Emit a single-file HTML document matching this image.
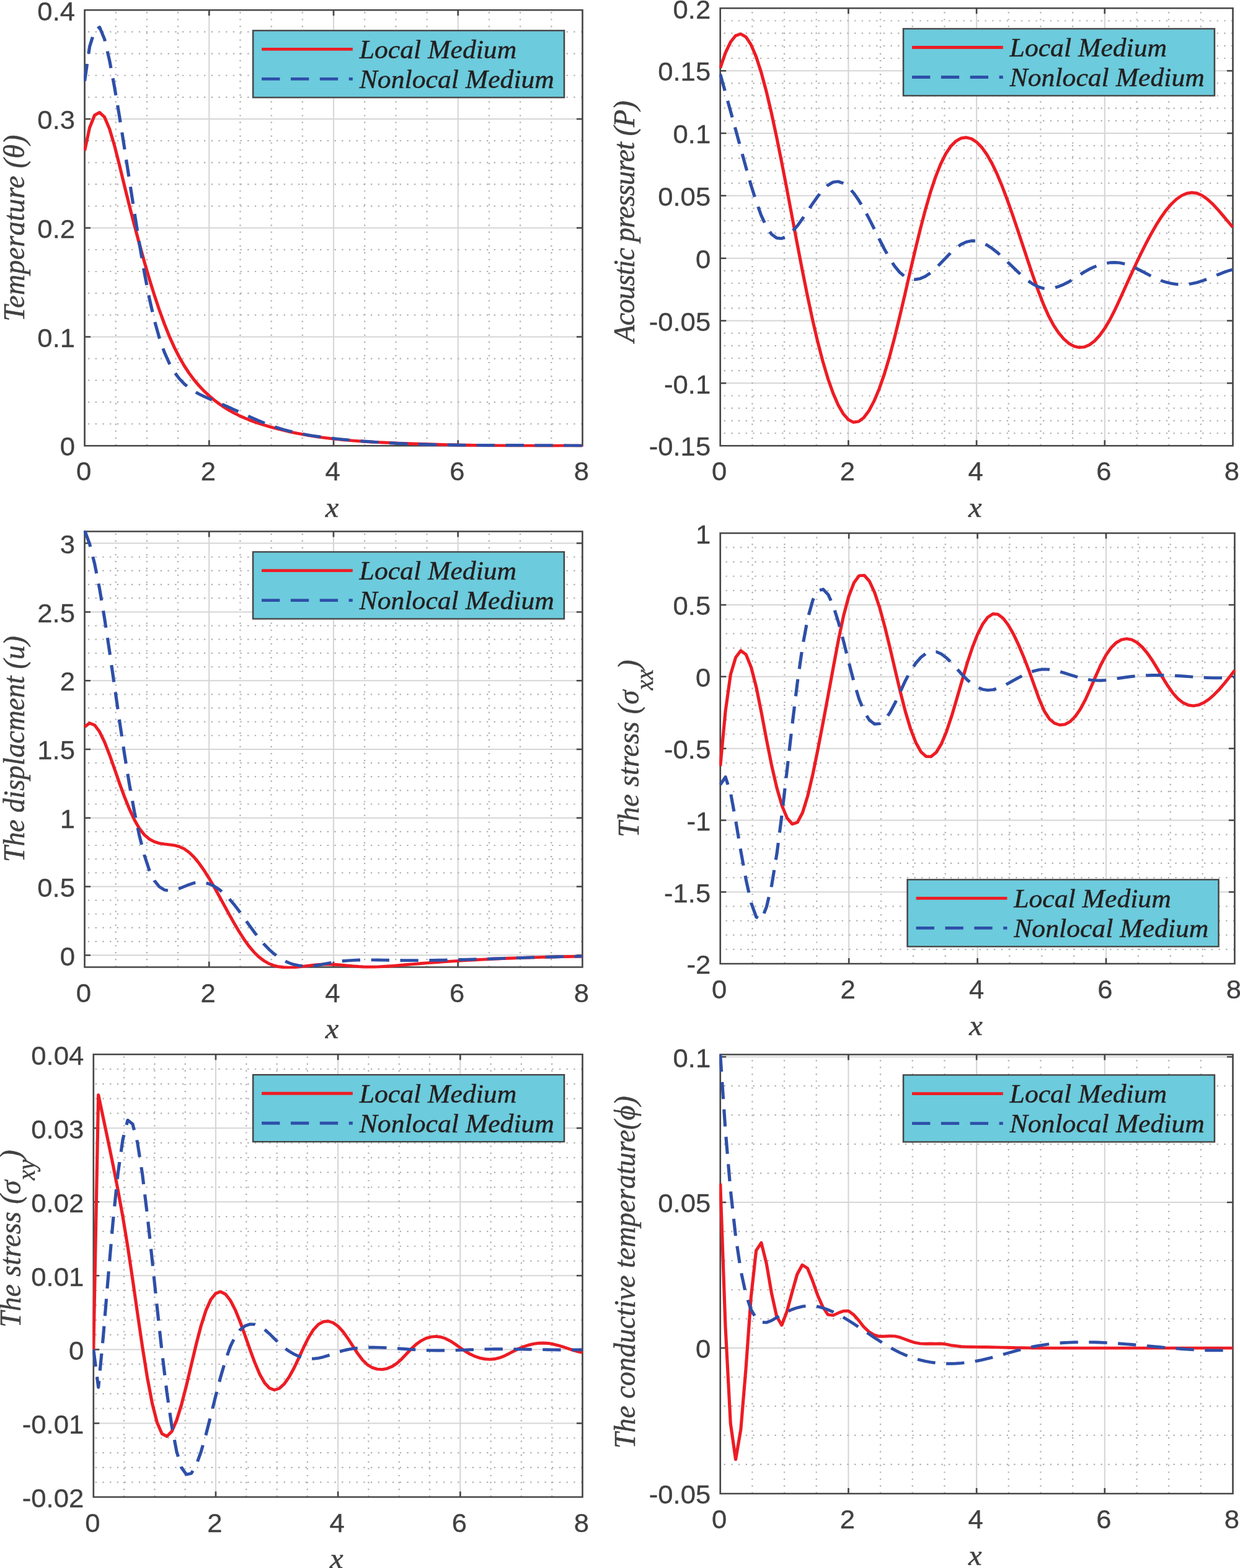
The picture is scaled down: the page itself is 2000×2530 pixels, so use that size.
<!DOCTYPE html>
<html lang="en">
<head>
<meta charset="utf-8">
<title>Local and nonlocal medium plots</title>
<style>
html,body{margin:0;padding:0;background:#fff;}
body{width:2000px;height:2530px;overflow:hidden;}
svg{display:block;}
.tk{font-family:"Liberation Sans",Arial,Helvetica,sans-serif;font-size:43px;fill:#414042;stroke:#414042;stroke-width:0.3px;}
.lb{font-family:"Liberation Serif","Times New Roman",Times,serif;font-style:italic;font-size:46px;fill:#414042;stroke:#414042;stroke-width:0.45px;}
.lg{font-family:"Liberation Serif","Times New Roman",Times,serif;font-style:italic;font-size:41.3px;fill:#231f20;stroke:#231f20;stroke-width:0.45px;}
</style>
</head>
<body>
<svg width="2000" height="2530" viewBox="0 0 2000 2530">
<rect x="0" y="0" width="2000" height="2530" fill="#ffffff"/>
<defs>
<clipPath id="c0"><rect x="127.65" y="15.1" width="761.77" height="706.45"/></clipPath>
<clipPath id="c1"><rect x="1096.6" y="12.15" width="784.31" height="709.4"/></clipPath>
<clipPath id="c2"><rect x="127.6" y="856.3" width="761.72" height="706.6"/></clipPath>
<clipPath id="c3"><rect x="1096.64" y="859.1" width="787" height="698.3"/></clipPath>
<clipPath id="c4"><rect x="141.12" y="1700" width="748.3" height="717.9"/></clipPath>
<clipPath id="c5"><rect x="1096.64" y="1700.3" width="784.26" height="712.1"/></clipPath>
</defs>
<g transform="scale(1.058,1)">
<g id="p1">
<path d="M318.8 16.3 V719.15 M508.53 16.3 V719.15 M698.26 16.3 V719.15 M129.06 543.44 H888 M129.06 367.73 H888 M129.06 192.02 H888" stroke="#d6d6d6" stroke-width="2" fill="none"/>
<path d="M176.5 718.95 V16.3 M223.93 718.95 V16.3 M271.36 718.95 V16.3 M366.23 718.95 V16.3 M413.66 718.95 V16.3 M461.1 718.95 V16.3 M555.96 718.95 V16.3 M603.4 718.95 V16.3 M650.83 718.95 V16.3 M745.7 718.95 V16.3 M793.13 718.95 V16.3 M840.56 718.95 V16.3" stroke="#b0b0b0" stroke-width="2.2" stroke-dasharray="2.2 8.87" fill="none"/>
<path d="M887.81 684.01 H130.48 M887.81 648.87 H130.48 M887.81 613.72 H130.48 M887.81 578.58 H130.48 M887.81 508.3 H130.48 M887.81 473.16 H130.48 M887.81 438.01 H130.48 M887.81 402.87 H130.48 M887.81 332.59 H130.48 M887.81 297.45 H130.48 M887.81 262.3 H130.48 M887.81 227.16 H130.48 M887.81 156.88 H130.48 M887.81 121.74 H130.48 M887.81 86.59 H130.48 M887.81 51.45 H130.48" stroke="#b0b0b0" stroke-width="2.2" stroke-dasharray="2.2 8.85" fill="none"/>
<path d="M129.06 16.3 H888 V719.15 H129.06 Z M318.8 719.15 v-9 M318.8 16.3 v9 M508.53 719.15 v-9 M508.53 16.3 v9 M698.26 719.15 v-9 M698.26 16.3 v9 M129.06 543.44 h9 M888 543.44 h-9 M129.06 367.73 h9 M888 367.73 h-9 M129.06 192.02 h9 M888 192.02 h-9" stroke="#464646" stroke-width="2.5" fill="none" stroke-linejoin="miter"/>
<g clip-path="url(#c0)" fill="none" stroke-linejoin="round">
<path d="M129.06 243.02 L136.65 205.88 L144.24 185.84 L151.83 181.4 L159.42 189.04 L167.01 208.13 L174.6 235.18 L182.19 266.88 L189.78 299.95 L197.37 332.32 L204.96 363.7 L212.55 393.93 L220.14 422.85 L227.73 450.31 L235.31 476.16 L242.9 500.23 L250.49 522.38 L258.08 542.45 L265.67 560.32 L273.26 576.14 L280.85 590.09 L288.44 602.36 L296.03 613.15 L303.62 622.65 L311.21 631.06 L318.8 638.57 L326.39 645.34 L333.98 651.47 L341.57 656.99 L349.15 661.95 L356.74 666.42 L364.33 670.44 L371.92 674.07 L379.51 677.35 L387.1 680.35 L394.69 683.1 L402.28 685.67 L409.87 688.08 L417.46 690.34 L425.05 692.47 L432.64 694.46 L440.23 696.32 L447.82 698.06 L455.41 699.67 L462.99 701.17 L470.58 702.57 L478.17 703.85 L485.76 705.05 L493.35 706.14 L500.94 707.15 L508.53 708.08 L516.12 708.93 L523.71 709.71 L531.3 710.43 L538.89 711.08 L546.48 711.67 L554.07 712.22 L561.66 712.72 L569.24 713.18 L576.83 713.61 L584.42 714.01 L592.01 714.38 L599.6 714.74 L607.19 715.08 L614.78 715.4 L622.37 715.71 L629.96 716 L637.55 716.27 L645.14 716.53 L652.73 716.77 L660.32 717 L667.91 717.22 L675.5 717.42 L683.08 717.61 L690.67 717.78 L698.26 717.95 L705.85 718.1 L713.44 718.24 L721.03 718.37 L728.62 718.48 L736.21 718.59 L743.8 718.69 L751.39 718.77 L758.98 718.85 L766.57 718.92 L774.16 718.98 L781.75 719.03 L789.34 719.07 L796.92 719.11 L804.51 719.14 L812.1 719.16 L819.69 719.18 L827.28 719.19 L834.87 719.19 L842.46 719.19 L850.05 719.18 L857.64 719.17 L865.23 719.16 L872.82 719.14 L880.41 719.12 L888 719.1" stroke="#ed1c24" stroke-width="4.9"/>
<path d="M129.06 130.61 L136.65 75.21 L144.24 49.44 L151.83 43.9 L159.42 63.4 L167.01 97.79 L174.6 140.75 L182.19 188.42 L189.78 239.15 L197.37 291.31 L204.96 343.26 L212.55 393.37 L220.14 440.01 L227.73 481.56 L235.31 516.57 L242.9 545.12 L250.49 568.03 L258.08 586.09 L265.67 600.12 L273.26 610.93 L280.85 619.33 L288.44 626.04 L296.03 631.46 L303.62 635.91 L311.21 639.73 L318.8 643.23 L326.39 646.7 L333.98 650.19 L341.57 653.72 L349.15 657.27 L356.74 660.87 L364.33 664.52 L371.92 668.2 L379.51 671.86 L387.1 675.45 L394.69 678.94 L402.28 682.27 L409.87 685.39 L417.46 688.27 L425.05 690.88 L432.64 693.25 L440.23 695.4 L447.82 697.33 L455.41 699.08 L462.99 700.65 L470.58 702.06 L478.17 703.34 L485.76 704.5 L493.35 705.56 L500.94 706.54 L508.53 707.45 L516.12 708.32 L523.71 709.13 L531.3 709.9 L538.89 710.63 L546.48 711.32 L554.07 711.96 L561.66 712.56 L569.24 713.13 L576.83 713.66 L584.42 714.15 L592.01 714.61 L599.6 715.04 L607.19 715.43 L614.78 715.79 L622.37 716.12 L629.96 716.43 L637.55 716.71 L645.14 716.96 L652.73 717.19 L660.32 717.39 L667.91 717.57 L675.5 717.73 L683.08 717.88 L690.67 718 L698.26 718.11 L705.85 718.2 L713.44 718.28 L721.03 718.34 L728.62 718.4 L736.21 718.44 L743.8 718.48 L751.39 718.5 L758.98 718.52 L766.57 718.54 L774.16 718.55 L781.75 718.56 L789.34 718.56 L796.92 718.57 L804.51 718.58 L812.1 718.59 L819.69 718.6 L827.28 718.62 L834.87 718.64 L842.46 718.68 L850.05 718.72 L857.64 718.77 L865.23 718.83 L872.82 718.91 L880.41 719 L888 719.1" stroke="#2e4fa8" stroke-width="4.9" stroke-dasharray="27.7 16.6"/>
</g>
<text class="tk" transform="translate(127.65,775.15) scale(0.96,1)" text-anchor="middle">0</text>
<text class="tk" transform="translate(317.38,775.15) scale(0.96,1)" text-anchor="middle">2</text>
<text class="tk" transform="translate(507.11,775.15) scale(0.96,1)" text-anchor="middle">4</text>
<text class="tk" transform="translate(696.85,775.15) scale(0.96,1)" text-anchor="middle">6</text>
<text class="tk" transform="translate(886.58,775.15) scale(0.96,1)" text-anchor="middle">8</text>
<text class="tk" transform="translate(114.41,735.45) scale(0.96,1)" text-anchor="end">0</text>
<text class="tk" transform="translate(114.41,559.74) scale(0.96,1)" text-anchor="end">0.1</text>
<text class="tk" transform="translate(114.41,384.03) scale(0.96,1)" text-anchor="end">0.2</text>
<text class="tk" transform="translate(114.41,208.32) scale(0.96,1)" text-anchor="end">0.3</text>
<text class="tk" transform="translate(114.41,32.61) scale(0.96,1)" text-anchor="end">0.4</text>
<text class="lb" x="506.26" y="834.15" text-anchor="middle">x</text>
<text class="lb" style="font-size:46px;letter-spacing:0.33px" transform="translate(36.86,367.9) rotate(-90)" text-anchor="middle">Temperature (θ)</text>
<rect x="385.73" y="49.3" width="474.39" height="108" fill="#6ccbdc" stroke="#464646" stroke-width="2.4"/>
<path d="M398.96 79.4 H537.71" stroke="#ed1c24" stroke-width="4.9" fill="none"/>
<path d="M398.96 127.4 H537.71" stroke="#2e4fa8" stroke-width="4.9" stroke-dasharray="27.7 16.6" fill="none"/>
<text class="lg" x="547.92" y="93.9">Local Medium</text>
<text class="lg" x="547.92" y="142">Nonlocal Medium</text>
</g>
<g id="p2">
<path d="M1293.38 13.35 V719.15 M1488.75 13.35 V719.15 M1684.12 13.35 V719.15 M1098.02 618.32 H1879.49 M1098.02 517.49 H1879.49 M1098.02 416.66 H1879.49 M1098.02 315.83 H1879.49 M1098.02 215 H1879.49 M1098.02 114.17 H1879.49" stroke="#d6d6d6" stroke-width="2" fill="none"/>
<path d="M1146.86 718.95 V13.35 M1195.7 718.95 V13.35 M1244.54 718.95 V13.35 M1342.23 718.95 V13.35 M1391.07 718.95 V13.35 M1439.91 718.95 V13.35 M1537.59 718.95 V13.35 M1586.44 718.95 V13.35 M1635.28 718.95 V13.35 M1732.96 718.95 V13.35 M1781.81 718.95 V13.35 M1830.65 718.95 V13.35" stroke="#b0b0b0" stroke-width="2.2" stroke-dasharray="2.2 8.87" fill="none"/>
<path d="M1879.3 698.98 H1099.43 M1879.3 678.82 H1099.43 M1879.3 658.65 H1099.43 M1879.3 638.49 H1099.43 M1879.3 598.15 H1099.43 M1879.3 577.99 H1099.43 M1879.3 557.82 H1099.43 M1879.3 537.66 H1099.43 M1879.3 497.32 H1099.43 M1879.3 477.16 H1099.43 M1879.3 456.99 H1099.43 M1879.3 436.83 H1099.43 M1879.3 396.49 H1099.43 M1879.3 376.33 H1099.43 M1879.3 356.16 H1099.43 M1879.3 336 H1099.43 M1879.3 295.66 H1099.43 M1879.3 275.5 H1099.43 M1879.3 255.33 H1099.43 M1879.3 235.17 H1099.43 M1879.3 194.83 H1099.43 M1879.3 174.67 H1099.43 M1879.3 154.5 H1099.43 M1879.3 134.34 H1099.43 M1879.3 94 H1099.43 M1879.3 73.84 H1099.43 M1879.3 53.67 H1099.43 M1879.3 33.51 H1099.43" stroke="#b0b0b0" stroke-width="2.2" stroke-dasharray="2.2 8.85" fill="none"/>
<path d="M1098.02 13.35 H1879.49 V719.15 H1098.02 Z M1293.38 719.15 v-9 M1293.38 13.35 v9 M1488.75 719.15 v-9 M1488.75 13.35 v9 M1684.12 719.15 v-9 M1684.12 13.35 v9 M1098.02 618.32 h9 M1879.49 618.32 h-9 M1098.02 517.49 h9 M1879.49 517.49 h-9 M1098.02 416.66 h9 M1879.49 416.66 h-9 M1098.02 315.83 h9 M1879.49 315.83 h-9 M1098.02 215 h9 M1879.49 215 h-9 M1098.02 114.17 h9 M1879.49 114.17 h-9" stroke="#464646" stroke-width="2.5" fill="none" stroke-linejoin="miter"/>
<g clip-path="url(#c1)" fill="none" stroke-linejoin="round">
<path d="M1098.02 109.84 L1105.83 85.38 L1113.64 67.88 L1121.46 57.59 L1129.27 54.73 L1137.09 59.55 L1144.9 72.05 L1152.72 91.51 L1160.53 117.04 L1168.35 147.79 L1176.16 182.87 L1183.98 221.41 L1191.79 262.54 L1199.61 305.38 L1207.42 349.1 L1215.24 392.84 L1223.05 435.76 L1230.87 477 L1238.68 515.74 L1246.5 551.17 L1254.31 582.9 L1262.12 610.68 L1269.94 634.25 L1277.75 653.36 L1285.57 667.75 L1293.38 677.17 L1301.2 681.36 L1309.01 680.18 L1316.83 673.88 L1324.64 662.79 L1332.46 647.25 L1340.27 627.57 L1348.09 603.89 L1355.9 576.22 L1363.72 544.95 L1371.53 511.08 L1379.35 475.67 L1387.16 439.75 L1394.98 404.37 L1402.79 370.48 L1410.6 338.87 L1418.42 310.33 L1426.23 285.5 L1434.05 264.65 L1441.86 248.01 L1449.68 235.72 L1457.49 227.53 L1465.31 222.98 L1473.12 221.79 L1480.94 223.88 L1488.75 229.17 L1496.57 237.59 L1504.38 249.07 L1512.2 263.52 L1520.01 280.86 L1527.83 300.71 L1535.64 322.58 L1543.46 345.99 L1551.27 370.44 L1559.09 395.43 L1566.9 420.47 L1574.71 445.04 L1582.53 468.45 L1590.34 489.95 L1598.16 508.8 L1605.97 524.44 L1613.79 537.01 L1621.6 546.82 L1629.42 554.04 L1637.23 558.66 L1645.05 560.63 L1652.86 559.92 L1660.68 556.49 L1668.49 550.32 L1676.31 541.45 L1684.12 529.98 L1691.94 516.04 L1699.75 499.78 L1707.57 481.95 L1715.38 463.66 L1723.19 445.48 L1731.01 427.63 L1738.82 410.3 L1746.64 393.72 L1754.45 378.09 L1762.27 363.62 L1770.08 350.51 L1777.9 338.97 L1785.71 329.21 L1793.53 321.39 L1801.34 315.62 L1809.16 312.02 L1816.97 310.71 L1824.79 311.79 L1832.6 315.37 L1840.42 321.16 L1848.23 328.7 L1856.05 337.52 L1863.86 347.12 L1871.67 357.04 L1879.49 366.8" stroke="#ed1c24" stroke-width="4.9"/>
<path d="M1098.02 119.67 L1105.83 149.25 L1113.64 179.08 L1121.46 209.17 L1129.27 239.51 L1137.09 269.72 L1144.9 298.62 L1152.72 325 L1160.53 347.68 L1168.35 365.64 L1176.16 377.85 L1183.98 384 L1191.79 384.86 L1199.61 381.35 L1207.42 374.35 L1215.24 364.77 L1223.05 353.44 L1230.87 341.18 L1238.68 328.79 L1246.5 317.06 L1254.31 306.81 L1262.12 298.83 L1269.94 293.94 L1277.75 292.88 L1285.57 295.71 L1293.38 301.97 L1301.2 311.22 L1309.01 322.98 L1316.83 336.8 L1324.64 352.22 L1332.46 368.66 L1340.27 385.37 L1348.09 401.57 L1355.9 416.49 L1363.72 429.35 L1371.53 439.38 L1379.35 446.18 L1387.16 449.97 L1394.98 451.02 L1402.79 449.58 L1410.6 445.91 L1418.42 440.28 L1426.23 433.02 L1434.05 424.71 L1441.86 416.02 L1449.68 407.61 L1457.49 400.13 L1465.31 394.25 L1473.12 390.35 L1480.94 388.53 L1488.75 388.85 L1496.57 391.16 L1504.38 395.15 L1512.2 400.55 L1520.01 407.06 L1527.83 414.38 L1535.64 422.23 L1543.46 430.31 L1551.27 438.29 L1559.09 445.85 L1566.9 452.66 L1574.71 458.39 L1582.53 462.7 L1590.34 465.26 L1598.16 465.87 L1605.97 464.76 L1613.79 462.3 L1621.6 458.89 L1629.42 454.75 L1637.23 449.73 L1645.05 444.14 L1652.86 438.89 L1660.68 434.3 L1668.49 430.43 L1676.31 427.35 L1684.12 425.12 L1691.94 423.81 L1699.75 423.47 L1707.57 424.16 L1715.38 425.96 L1723.19 428.78 L1731.01 432.39 L1738.82 436.51 L1746.64 440.87 L1754.45 445.21 L1762.27 449.26 L1770.08 452.75 L1777.9 455.49 L1785.71 457.45 L1793.53 458.64 L1801.34 459.07 L1809.16 458.74 L1816.97 457.66 L1824.79 455.83 L1832.6 453.29 L1840.42 450.24 L1848.23 446.88 L1856.05 443.46 L1863.86 440.17 L1871.67 437.26 L1879.49 434.94" stroke="#2e4fa8" stroke-width="4.9" stroke-dasharray="27.7 16.6"/>
</g>
<text class="tk" transform="translate(1096.6,775.15) scale(0.96,1)" text-anchor="middle">0</text>
<text class="tk" transform="translate(1291.97,775.15) scale(0.96,1)" text-anchor="middle">2</text>
<text class="tk" transform="translate(1487.33,775.15) scale(0.96,1)" text-anchor="middle">4</text>
<text class="tk" transform="translate(1682.7,775.15) scale(0.96,1)" text-anchor="middle">6</text>
<text class="tk" transform="translate(1878.07,775.15) scale(0.96,1)" text-anchor="middle">8</text>
<text class="tk" transform="translate(1083.36,735.45) scale(0.96,1)" text-anchor="end">-0.15</text>
<text class="tk" transform="translate(1083.36,634.62) scale(0.96,1)" text-anchor="end">-0.1</text>
<text class="tk" transform="translate(1083.36,533.79) scale(0.96,1)" text-anchor="end">-0.05</text>
<text class="tk" transform="translate(1083.36,432.96) scale(0.96,1)" text-anchor="end">0</text>
<text class="tk" transform="translate(1083.36,332.13) scale(0.96,1)" text-anchor="end">0.05</text>
<text class="tk" transform="translate(1083.36,231.3) scale(0.96,1)" text-anchor="end">0.1</text>
<text class="tk" transform="translate(1083.36,130.47) scale(0.96,1)" text-anchor="end">0.15</text>
<text class="tk" transform="translate(1083.36,29.64) scale(0.96,1)" text-anchor="end">0.2</text>
<text class="lb" x="1486.48" y="834.15" text-anchor="middle">x</text>
<text class="lb" style="font-size:46px;letter-spacing:-0.85px" transform="translate(967.2,357.8) rotate(-90)" text-anchor="middle">Acoustic pressuret (P)</text>
<rect x="1377.13" y="46.4" width="474.39" height="108" fill="#6ccbdc" stroke="#464646" stroke-width="2.4"/>
<path d="M1390.36 76.5 H1529.11" stroke="#ed1c24" stroke-width="4.9" fill="none"/>
<path d="M1390.36 124.5 H1529.11" stroke="#2e4fa8" stroke-width="4.9" stroke-dasharray="27.7 16.6" fill="none"/>
<text class="lg" x="1539.32" y="91">Local Medium</text>
<text class="lg" x="1539.32" y="139.1">Nonlocal Medium</text>
</g>
<g id="p3">
<path d="M318.74 857.5 V1560.5 M508.46 857.5 V1560.5 M698.18 857.5 V1560.5 M129.02 1541.2 H887.9 M129.02 1430.43 H887.9 M129.02 1319.67 H887.9 M129.02 1208.9 H887.9 M129.02 1098.14 H887.9 M129.02 987.38 H887.9 M129.02 876.61 H887.9" stroke="#d6d6d6" stroke-width="2" fill="none"/>
<path d="M176.45 1560.3 V857.5 M223.88 1560.3 V857.5 M271.31 1560.3 V857.5 M366.17 1560.3 V857.5 M413.6 1560.3 V857.5 M461.03 1560.3 V857.5 M555.89 1560.3 V857.5 M603.32 1560.3 V857.5 M650.75 1560.3 V857.5 M745.61 1560.3 V857.5 M793.04 1560.3 V857.5 M840.47 1560.3 V857.5" stroke="#b0b0b0" stroke-width="2.2" stroke-dasharray="2.2 8.87" fill="none"/>
<path d="M887.71 1519.05 H130.43 M887.71 1496.89 H130.43 M887.71 1474.74 H130.43 M887.71 1452.59 H130.43 M887.71 1408.28 H130.43 M887.71 1386.13 H130.43 M887.71 1363.98 H130.43 M887.71 1341.82 H130.43 M887.71 1297.52 H130.43 M887.71 1275.36 H130.43 M887.71 1253.21 H130.43 M887.71 1231.06 H130.43 M887.71 1186.75 H130.43 M887.71 1164.6 H130.43 M887.71 1142.45 H130.43 M887.71 1120.29 H130.43 M887.71 1075.99 H130.43 M887.71 1053.83 H130.43 M887.71 1031.68 H130.43 M887.71 1009.53 H130.43 M887.71 965.22 H130.43 M887.71 943.07 H130.43 M887.71 920.92 H130.43 M887.71 898.76 H130.43" stroke="#b0b0b0" stroke-width="2.2" stroke-dasharray="2.2 8.85" fill="none"/>
<path d="M129.02 857.5 H887.9 V1560.5 H129.02 Z M318.74 1560.5 v-9 M318.74 857.5 v9 M508.46 1560.5 v-9 M508.46 857.5 v9 M698.18 1560.5 v-9 M698.18 857.5 v9 M129.02 1541.2 h9 M887.9 1541.2 h-9 M129.02 1430.43 h9 M887.9 1430.43 h-9 M129.02 1319.67 h9 M887.9 1319.67 h-9 M129.02 1208.9 h9 M887.9 1208.9 h-9 M129.02 1098.14 h9 M887.9 1098.14 h-9 M129.02 987.38 h9 M887.9 987.38 h-9 M129.02 876.61 h9 M887.9 876.61 h-9" stroke="#464646" stroke-width="2.5" fill="none" stroke-linejoin="miter"/>
<g clip-path="url(#c2)" fill="none" stroke-linejoin="round">
<path d="M129.02 1172.86 L136.61 1166.69 L144.19 1169.89 L151.78 1180.67 L159.37 1197.24 L166.96 1217.8 L174.55 1240.55 L182.14 1263.69 L189.73 1285.66 L197.32 1305.61 L204.91 1322.88 L212.49 1336.8 L220.08 1346.95 L227.67 1353.83 L235.26 1358.14 L242.85 1360.62 L250.44 1361.94 L258.03 1362.82 L265.62 1363.92 L273.21 1365.95 L280.79 1369.59 L288.38 1375.39 L295.97 1383.29 L303.56 1393.04 L311.15 1404.4 L318.74 1417.12 L326.33 1430.86 L333.92 1445.28 L341.5 1460.03 L349.09 1474.76 L356.68 1489.12 L364.27 1502.76 L371.86 1515.34 L379.45 1526.51 L387.04 1536.08 L394.63 1543.99 L402.22 1550.21 L409.8 1554.73 L417.39 1557.82 L424.98 1559.76 L432.57 1560.8 L440.16 1561.09 L447.75 1560.81 L455.34 1560.11 L462.93 1559.15 L470.52 1558.09 L478.1 1557.1 L485.69 1556.33 L493.28 1555.94 L500.87 1555.93 L508.46 1556.24 L516.05 1556.77 L523.64 1557.44 L531.23 1558.18 L538.81 1558.9 L546.4 1559.53 L553.99 1559.97 L561.58 1560.16 L569.17 1560.13 L576.76 1559.91 L584.35 1559.52 L591.94 1559.01 L599.53 1558.39 L607.11 1557.72 L614.7 1557.01 L622.29 1556.3 L629.88 1555.61 L637.47 1554.94 L645.06 1554.3 L652.65 1553.67 L660.24 1553.07 L667.83 1552.49 L675.41 1551.92 L683 1551.38 L690.59 1550.85 L698.18 1550.35 L705.77 1549.86 L713.36 1549.39 L720.95 1548.94 L728.54 1548.51 L736.12 1548.1 L743.71 1547.7 L751.3 1547.32 L758.89 1546.96 L766.48 1546.61 L774.07 1546.28 L781.66 1545.97 L789.25 1545.67 L796.84 1545.39 L804.42 1545.12 L812.01 1544.86 L819.6 1544.63 L827.19 1544.4 L834.78 1544.19 L842.37 1543.99 L849.96 1543.81 L857.55 1543.63 L865.14 1543.47 L872.72 1543.33 L880.31 1543.19 L887.9 1543.07" stroke="#ed1c24" stroke-width="4.9"/>
<path d="M129.02 855.77 L136.61 877.53 L144.19 909.32 L151.78 949.9 L159.37 997.81 L166.96 1050.89 L174.55 1106.76 L182.14 1162.86 L189.73 1216.61 L197.32 1265.98 L204.91 1310.12 L212.49 1348.32 L220.08 1379.89 L227.67 1404.15 L235.26 1420.75 L242.85 1430.82 L250.44 1435.81 L258.03 1437.19 L265.62 1436.23 L273.21 1433.76 L280.79 1430.5 L288.38 1427.2 L295.97 1424.6 L303.56 1423.41 L311.15 1423.91 L318.74 1426.04 L326.33 1429.74 L333.92 1434.96 L341.5 1441.65 L349.09 1449.74 L356.68 1459.17 L364.27 1469.66 L371.86 1480.79 L379.45 1492.12 L387.04 1503.21 L394.63 1513.62 L402.22 1523.04 L409.8 1531.4 L417.39 1538.66 L424.98 1544.78 L432.57 1549.72 L440.16 1553.5 L447.75 1556.21 L455.34 1557.93 L462.93 1558.77 L470.52 1558.82 L478.1 1558.21 L485.69 1557.1 L493.28 1555.66 L500.87 1554.11 L508.46 1552.65 L516.05 1551.45 L523.64 1550.51 L531.23 1549.82 L538.81 1549.33 L546.4 1549.02 L553.99 1548.86 L561.58 1548.82 L569.17 1548.88 L576.76 1548.99 L584.35 1549.14 L591.94 1549.29 L599.53 1549.42 L607.11 1549.51 L614.7 1549.58 L622.29 1549.61 L629.88 1549.61 L637.47 1549.59 L645.06 1549.53 L652.65 1549.46 L660.24 1549.36 L667.83 1549.24 L675.41 1549.1 L683 1548.95 L690.59 1548.77 L698.18 1548.58 L705.77 1548.38 L713.36 1548.16 L720.95 1547.93 L728.54 1547.69 L736.12 1547.45 L743.71 1547.19 L751.3 1546.93 L758.89 1546.67 L766.48 1546.41 L774.07 1546.14 L781.66 1545.88 L789.25 1545.62 L796.84 1545.36 L804.42 1545.1 L812.01 1544.86 L819.6 1544.62 L827.19 1544.39 L834.78 1544.17 L842.37 1543.96 L849.96 1543.77 L857.55 1543.59 L865.14 1543.43 L872.72 1543.29 L880.31 1543.17 L887.9 1543.07" stroke="#2e4fa8" stroke-width="4.9" stroke-dasharray="27.7 16.6"/>
</g>
<text class="tk" transform="translate(127.6,1616.5) scale(0.96,1)" text-anchor="middle">0</text>
<text class="tk" transform="translate(317.32,1616.5) scale(0.96,1)" text-anchor="middle">2</text>
<text class="tk" transform="translate(507.04,1616.5) scale(0.96,1)" text-anchor="middle">4</text>
<text class="tk" transform="translate(696.76,1616.5) scale(0.96,1)" text-anchor="middle">6</text>
<text class="tk" transform="translate(886.48,1616.5) scale(0.96,1)" text-anchor="middle">8</text>
<text class="tk" transform="translate(114.37,1557.5) scale(0.96,1)" text-anchor="end">0</text>
<text class="tk" transform="translate(114.37,1446.73) scale(0.96,1)" text-anchor="end">0.5</text>
<text class="tk" transform="translate(114.37,1335.97) scale(0.96,1)" text-anchor="end">1</text>
<text class="tk" transform="translate(114.37,1225.2) scale(0.96,1)" text-anchor="end">1.5</text>
<text class="tk" transform="translate(114.37,1114.44) scale(0.96,1)" text-anchor="end">2</text>
<text class="tk" transform="translate(114.37,1003.67) scale(0.96,1)" text-anchor="end">2.5</text>
<text class="tk" transform="translate(114.37,892.91) scale(0.96,1)" text-anchor="end">3</text>
<text class="lb" x="506.19" y="1675.5" text-anchor="middle">x</text>
<text class="lb" style="font-size:46px;letter-spacing:-0.17px" transform="translate(36.58,1208.7) rotate(-90)" text-anchor="middle">The displacment (u)</text>
<rect x="385.63" y="890.5" width="474.39" height="108" fill="#6ccbdc" stroke="#464646" stroke-width="2.4"/>
<path d="M398.87 920.6 H537.62" stroke="#ed1c24" stroke-width="4.9" fill="none"/>
<path d="M398.87 968.6 H537.62" stroke="#2e4fa8" stroke-width="4.9" stroke-dasharray="27.7 16.6" fill="none"/>
<text class="lg" x="547.83" y="935.1">Local Medium</text>
<text class="lg" x="547.83" y="983.2">Nonlocal Medium</text>
</g>
<g id="p4">
<path d="M1294.1 860.3 V1555 M1490.15 860.3 V1555 M1686.19 860.3 V1555 M1098.06 1439.22 H1882.23 M1098.06 1323.44 H1882.23 M1098.06 1207.65 H1882.23 M1098.06 1091.87 H1882.23 M1098.06 976.08 H1882.23" stroke="#d6d6d6" stroke-width="2" fill="none"/>
<path d="M1147.07 1554.8 V860.3 M1196.08 1554.8 V860.3 M1245.09 1554.8 V860.3 M1343.11 1554.8 V860.3 M1392.13 1554.8 V860.3 M1441.14 1554.8 V860.3 M1539.16 1554.8 V860.3 M1588.17 1554.8 V860.3 M1637.18 1554.8 V860.3 M1735.2 1554.8 V860.3 M1784.21 1554.8 V860.3 M1833.22 1554.8 V860.3" stroke="#b0b0b0" stroke-width="2.2" stroke-dasharray="2.2 8.87" fill="none"/>
<path d="M1882.04 1531.85 H1099.48 M1882.04 1508.7 H1099.48 M1882.04 1485.54 H1099.48 M1882.04 1462.38 H1099.48 M1882.04 1416.07 H1099.48 M1882.04 1392.91 H1099.48 M1882.04 1369.75 H1099.48 M1882.04 1346.6 H1099.48 M1882.04 1300.28 H1099.48 M1882.04 1277.13 H1099.48 M1882.04 1253.97 H1099.48 M1882.04 1230.81 H1099.48 M1882.04 1184.5 H1099.48 M1882.04 1161.34 H1099.48 M1882.04 1138.18 H1099.48 M1882.04 1115.03 H1099.48 M1882.04 1068.71 H1099.48 M1882.04 1045.56 H1099.48 M1882.04 1022.4 H1099.48 M1882.04 999.24 H1099.48 M1882.04 952.93 H1099.48 M1882.04 929.77 H1099.48 M1882.04 906.61 H1099.48 M1882.04 883.46 H1099.48" stroke="#b0b0b0" stroke-width="2.2" stroke-dasharray="2.2 8.85" fill="none"/>
<path d="M1098.06 860.3 H1882.23 V1555 H1098.06 Z M1294.1 1555 v-9 M1294.1 860.3 v9 M1490.15 1555 v-9 M1490.15 860.3 v9 M1686.19 1555 v-9 M1686.19 860.3 v9 M1098.06 1439.22 h9 M1882.23 1439.22 h-9 M1098.06 1323.44 h9 M1882.23 1323.44 h-9 M1098.06 1207.65 h9 M1882.23 1207.65 h-9 M1098.06 1091.87 h9 M1882.23 1091.87 h-9 M1098.06 976.08 h9 M1882.23 976.08 h-9" stroke="#464646" stroke-width="2.5" fill="none" stroke-linejoin="miter"/>
<g clip-path="url(#c3)" fill="none" stroke-linejoin="round">
<path d="M1098.06 1236.18 L1105.9 1147.73 L1113.75 1088.34 L1121.59 1060.66 L1129.43 1049.8 L1137.27 1056.23 L1145.11 1076.57 L1152.95 1108.82 L1160.8 1149.93 L1168.64 1194.18 L1176.48 1235.63 L1184.32 1271.5 L1192.16 1300.19 L1200 1320.06 L1207.85 1329.6 L1215.69 1326.94 L1223.53 1311.19 L1231.37 1284.14 L1239.21 1248.75 L1247.05 1208 L1254.9 1164.77 L1262.74 1120.45 L1270.58 1075.47 L1278.42 1031.39 L1286.26 992.33 L1294.1 961.57 L1301.95 940.16 L1309.79 928.86 L1317.63 928.33 L1325.47 937.87 L1333.31 955.97 L1341.15 981.11 L1349 1011.67 L1356.84 1045.73 L1364.68 1081.25 L1372.52 1116.19 L1380.36 1148.52 L1388.2 1176.23 L1396.05 1197.92 L1403.89 1212.89 L1411.73 1220.48 L1419.57 1220.7 L1427.41 1213.8 L1435.25 1200.01 L1443.1 1179.82 L1450.94 1154.82 L1458.78 1126.91 L1466.62 1098.03 L1474.46 1070.08 L1482.3 1044.93 L1490.15 1023.75 L1497.99 1007.19 L1505.83 995.9 L1513.67 990.5 L1521.51 991.31 L1529.35 997.63 L1537.2 1008.57 L1545.04 1023.23 L1552.88 1040.75 L1560.72 1060.32 L1568.56 1081.79 L1576.41 1105.09 L1584.25 1128.18 L1592.09 1147.53 L1599.93 1160.23 L1607.77 1167.05 L1615.61 1169.8 L1623.46 1168.92 L1631.3 1164.37 L1639.14 1156.14 L1646.98 1144.22 L1654.82 1128.61 L1662.66 1110.15 L1670.51 1090.73 L1678.35 1072.3 L1686.19 1056.76 L1694.03 1044.97 L1701.87 1036.8 L1709.71 1032.06 L1717.56 1030.58 L1725.4 1032.18 L1733.24 1036.67 L1741.08 1043.88 L1748.92 1053.64 L1756.76 1065.69 L1764.61 1079.26 L1772.45 1093.29 L1780.29 1106.72 L1788.13 1118.48 L1795.97 1127.65 L1803.81 1134.04 L1811.66 1137.75 L1819.5 1138.85 L1827.34 1137.46 L1835.18 1133.81 L1843.02 1128.21 L1850.86 1120.96 L1858.71 1112.37 L1866.55 1102.74 L1874.39 1092.38 L1882.23 1081.59" stroke="#ed1c24" stroke-width="4.9"/>
<path d="M1098.06 1266.3 L1105.9 1253.7 L1113.75 1279.04 L1121.59 1324.14 L1129.43 1373.67 L1137.27 1419.22 L1145.11 1456.69 L1152.95 1479.74 L1160.8 1484 L1168.64 1463.08 L1176.48 1427.93 L1184.32 1377.47 L1192.16 1313.07 L1200 1241.05 L1207.85 1168.47 L1215.69 1100.72 L1223.53 1042.48 L1231.37 997.74 L1239.21 968.11 L1247.05 953.08 L1254.9 950.8 L1262.74 959.69 L1270.58 978.39 L1278.42 1004.77 L1286.26 1036.01 L1294.1 1069.22 L1301.95 1101.13 L1309.79 1128.37 L1317.63 1148.78 L1325.47 1162.09 L1333.31 1168.25 L1341.15 1167.68 L1349 1161.2 L1356.84 1149.67 L1364.68 1133.96 L1372.52 1115.87 L1380.36 1098.04 L1388.2 1082.65 L1396.05 1070.13 L1403.89 1060.63 L1411.73 1054.29 L1419.57 1051.23 L1427.41 1051.6 L1435.25 1055.33 L1443.1 1061.7 L1450.94 1069.88 L1458.78 1079.03 L1466.62 1088.3 L1474.46 1096.86 L1482.3 1103.91 L1490.15 1109.09 L1497.99 1112.33 L1505.83 1113.58 L1513.67 1112.86 L1521.51 1110.49 L1529.35 1106.92 L1537.2 1102.59 L1545.04 1097.95 L1552.88 1093.4 L1560.72 1089.18 L1568.56 1085.5 L1576.41 1082.58 L1584.25 1080.64 L1592.09 1079.86 L1599.93 1080.29 L1607.77 1081.66 L1615.61 1083.71 L1623.46 1086.18 L1631.3 1088.79 L1639.14 1091.33 L1646.98 1093.65 L1654.82 1095.61 L1662.66 1097.07 L1670.51 1097.9 L1678.35 1097.98 L1686.19 1097.41 L1694.03 1096.38 L1701.87 1095.09 L1709.71 1093.72 L1717.56 1092.47 L1725.4 1091.46 L1733.24 1090.67 L1741.08 1090.09 L1748.92 1089.7 L1756.76 1089.5 L1764.61 1089.45 L1772.45 1089.55 L1780.29 1089.78 L1788.13 1090.11 L1795.97 1090.54 L1803.81 1091.05 L1811.66 1091.61 L1819.5 1092.19 L1827.34 1092.75 L1835.18 1093.24 L1843.02 1093.62 L1850.86 1093.84 L1858.71 1093.87 L1866.55 1093.67 L1874.39 1093.18 L1882.23 1092.36" stroke="#2e4fa8" stroke-width="4.9" stroke-dasharray="27.7 16.6"/>
</g>
<text class="tk" transform="translate(1096.64,1611) scale(0.96,1)" text-anchor="middle">0</text>
<text class="tk" transform="translate(1292.69,1611) scale(0.96,1)" text-anchor="middle">2</text>
<text class="tk" transform="translate(1488.73,1611) scale(0.96,1)" text-anchor="middle">4</text>
<text class="tk" transform="translate(1684.77,1611) scale(0.96,1)" text-anchor="middle">6</text>
<text class="tk" transform="translate(1880.81,1611) scale(0.96,1)" text-anchor="middle">8</text>
<text class="tk" transform="translate(1083.41,1571.31) scale(0.96,1)" text-anchor="end">-2</text>
<text class="tk" transform="translate(1083.41,1455.52) scale(0.96,1)" text-anchor="end">-1.5</text>
<text class="tk" transform="translate(1083.41,1339.74) scale(0.96,1)" text-anchor="end">-1</text>
<text class="tk" transform="translate(1083.41,1223.95) scale(0.96,1)" text-anchor="end">-0.5</text>
<text class="tk" transform="translate(1083.41,1108.17) scale(0.96,1)" text-anchor="end">0</text>
<text class="tk" transform="translate(1083.41,992.38) scale(0.96,1)" text-anchor="end">0.5</text>
<text class="tk" transform="translate(1083.41,876.6) scale(0.96,1)" text-anchor="end">1</text>
<text class="lb" x="1487.88" y="1670" text-anchor="middle">x</text>
<text class="lb" style="font-size:46px;letter-spacing:0.34px" transform="translate(973.63,1207.7) rotate(-90)" text-anchor="middle">The stress (σ<tspan dy="22" style="font-size:37px">xx</tspan><tspan dy="-22">)</tspan></text>
<rect x="1383.36" y="1419.3" width="474.39" height="108" fill="#6ccbdc" stroke="#464646" stroke-width="2.4"/>
<path d="M1396.6 1449.4 H1535.35" stroke="#ed1c24" stroke-width="4.9" fill="none"/>
<path d="M1396.6 1497.4 H1535.35" stroke="#2e4fa8" stroke-width="4.9" stroke-dasharray="27.7 16.6" fill="none"/>
<text class="lg" x="1545.56" y="1463.9">Local Medium</text>
<text class="lg" x="1545.56" y="1512">Nonlocal Medium</text>
</g>
<g id="p5">
<path d="M328.9 1701.2 V2415.5 M515.26 1701.2 V2415.5 M701.63 1701.2 V2415.5 M142.53 2296.45 H888 M142.53 2177.4 H888 M142.53 2058.35 H888 M142.53 1939.3 H888 M142.53 1820.25 H888" stroke="#d6d6d6" stroke-width="2" fill="none"/>
<path d="M189.12 2415.3 V1701.2 M235.72 2415.3 V1701.2 M282.31 2415.3 V1701.2 M375.49 2415.3 V1701.2 M422.08 2415.3 V1701.2 M468.67 2415.3 V1701.2 M561.86 2415.3 V1701.2 M608.45 2415.3 V1701.2 M655.04 2415.3 V1701.2 M748.22 2415.3 V1701.2 M794.81 2415.3 V1701.2 M841.4 2415.3 V1701.2" stroke="#b0b0b0" stroke-width="2.2" stroke-dasharray="2.2 8.87" fill="none"/>
<path d="M887.81 2391.69 H143.95 M887.81 2367.88 H143.95 M887.81 2344.07 H143.95 M887.81 2320.26 H143.95 M887.81 2272.64 H143.95 M887.81 2248.83 H143.95 M887.81 2225.02 H143.95 M887.81 2201.21 H143.95 M887.81 2153.59 H143.95 M887.81 2129.78 H143.95 M887.81 2105.97 H143.95 M887.81 2082.16 H143.95 M887.81 2034.54 H143.95 M887.81 2010.73 H143.95 M887.81 1986.92 H143.95 M887.81 1963.11 H143.95 M887.81 1915.49 H143.95 M887.81 1891.68 H143.95 M887.81 1867.87 H143.95 M887.81 1844.06 H143.95 M887.81 1796.44 H143.95 M887.81 1772.63 H143.95 M887.81 1748.82 H143.95 M887.81 1725.01 H143.95" stroke="#b0b0b0" stroke-width="2.2" stroke-dasharray="2.2 8.85" fill="none"/>
<path d="M142.53 1701.2 H888 V2415.5 H142.53 Z M328.9 2415.5 v-9 M328.9 1701.2 v9 M515.26 2415.5 v-9 M515.26 1701.2 v9 M701.63 2415.5 v-9 M701.63 1701.2 v9 M142.53 2296.45 h9 M888 2296.45 h-9 M142.53 2177.4 h9 M888 2177.4 h-9 M142.53 2058.35 h9 M888 2058.35 h-9 M142.53 1939.3 h9 M888 1939.3 h-9 M142.53 1820.25 h9 M888 1820.25 h-9" stroke="#464646" stroke-width="2.5" fill="none" stroke-linejoin="miter"/>
<g clip-path="url(#c4)" fill="none" stroke-linejoin="round">
<path d="M142.53 2177.5 L149.99 1766.76 L157.44 1803.97 L164.9 1841.55 L172.35 1879.87 L179.81 1920.17 L187.26 1963.65 L194.72 2011.53 L202.17 2064.25 L209.62 2119.21 L217.08 2173.07 L224.53 2222.47 L231.99 2264.11 L239.44 2295.11 L246.9 2313.41 L254.35 2317.7 L261.81 2309.73 L269.26 2291.73 L276.72 2266.2 L284.17 2235.57 L291.63 2202.28 L299.08 2169.09 L306.53 2138.94 L313.99 2114.19 L321.44 2096.76 L328.9 2086.93 L336.35 2084.25 L343.81 2088.22 L351.26 2098.35 L358.72 2113.71 L366.17 2133.11 L373.63 2154.98 L381.08 2177.52 L388.54 2198.94 L395.99 2217.47 L403.45 2231.36 L410.9 2239.77 L418.35 2242.71 L425.81 2240.27 L433.26 2233.04 L440.72 2221.85 L448.17 2207.5 L455.63 2190.88 L463.08 2173.61 L470.54 2157.75 L477.99 2145.3 L485.45 2136.97 L492.9 2132.53 L500.36 2131.71 L507.81 2134.25 L515.26 2139.9 L522.72 2148.39 L530.17 2159.33 L537.63 2171.55 L545.08 2183.63 L552.54 2194.16 L559.99 2201.86 L567.45 2206.69 L574.9 2209.12 L582.36 2209.62 L589.81 2208.3 L597.27 2205.11 L604.72 2199.99 L612.17 2192.93 L619.63 2184.62 L627.08 2176.25 L634.54 2168.98 L641.99 2163.36 L649.45 2159.4 L656.9 2157.07 L664.36 2156.37 L671.81 2157.28 L679.27 2159.79 L686.72 2163.84 L694.18 2169.01 L701.63 2174.65 L709.09 2180.12 L716.54 2184.81 L723.99 2188.47 L731.45 2191.11 L738.9 2192.74 L746.36 2193.34 L753.81 2192.79 L761.27 2190.99 L768.72 2187.91 L776.18 2183.97 L783.63 2179.8 L791.09 2175.99 L798.54 2172.79 L806 2170.25 L813.45 2168.4 L820.9 2167.29 L828.36 2166.96 L835.81 2167.45 L843.27 2168.78 L850.72 2170.77 L858.18 2173.18 L865.63 2175.77 L873.09 2178.32 L880.54 2180.59 L888 2182.34" stroke="#ed1c24" stroke-width="4.9"/>
<path d="M142.53 2177.5 L149.99 2238.5 L157.44 2155.79 L164.9 2060.97 L172.35 1969.97 L179.81 1893.2 L187.26 1838.41 L194.72 1807.4 L202.17 1813.56 L209.62 1843.78 L217.08 1894.74 L224.53 1959.94 L231.99 2033.25 L239.44 2108.83 L246.9 2181.25 L254.35 2246.34 L261.81 2300.59 L269.26 2341.83 L276.72 2368.22 L284.17 2379.1 L291.63 2377.41 L299.08 2364.14 L306.53 2342.22 L313.99 2314.62 L321.44 2283.8 L328.9 2252.05 L336.35 2221.64 L343.81 2194.55 L351.26 2172.31 L358.72 2156.12 L366.17 2145.54 L373.63 2139.4 L381.08 2136.66 L388.54 2136.88 L395.99 2139.79 L403.45 2145.1 L410.9 2152.18 L418.35 2160.07 L425.81 2167.79 L433.26 2174.57 L440.72 2180.28 L448.17 2184.91 L455.63 2188.45 L463.08 2190.87 L470.54 2192.17 L477.99 2192.32 L485.45 2191.36 L492.9 2189.53 L500.36 2187.11 L507.81 2184.41 L515.26 2181.73 L522.72 2179.36 L530.17 2177.5 L537.63 2176.11 L545.08 2175.13 L552.54 2174.5 L559.99 2174.16 L567.45 2174.04 L574.9 2174.11 L582.36 2174.33 L589.81 2174.68 L597.27 2175.12 L604.72 2175.64 L612.17 2176.2 L619.63 2176.77 L627.08 2177.33 L634.54 2177.86 L641.99 2178.31 L649.45 2178.67 L656.9 2178.91 L664.36 2179.03 L671.81 2179.04 L679.27 2178.96 L686.72 2178.81 L694.18 2178.6 L701.63 2178.35 L709.09 2178.08 L716.54 2177.8 L723.99 2177.52 L731.45 2177.27 L738.9 2177.07 L746.36 2176.92 L753.81 2176.82 L761.27 2176.78 L768.72 2176.78 L776.18 2176.82 L783.63 2176.89 L791.09 2176.99 L798.54 2177.11 L806 2177.24 L813.45 2177.38 L820.9 2177.52 L828.36 2177.65 L835.81 2177.78 L843.27 2177.88 L850.72 2177.96 L858.18 2178.01 L865.63 2178.02 L873.09 2177.98 L880.54 2177.9 L888 2177.76" stroke="#2e4fa8" stroke-width="4.9" stroke-dasharray="27.7 16.6"/>
</g>
<text class="tk" transform="translate(141.12,2471.5) scale(0.96,1)" text-anchor="middle">0</text>
<text class="tk" transform="translate(327.48,2471.5) scale(0.96,1)" text-anchor="middle">2</text>
<text class="tk" transform="translate(513.85,2471.5) scale(0.96,1)" text-anchor="middle">4</text>
<text class="tk" transform="translate(700.21,2471.5) scale(0.96,1)" text-anchor="middle">6</text>
<text class="tk" transform="translate(886.58,2471.5) scale(0.96,1)" text-anchor="middle">8</text>
<text class="tk" transform="translate(127.88,2431.8) scale(0.96,1)" text-anchor="end">-0.02</text>
<text class="tk" transform="translate(127.88,2312.75) scale(0.96,1)" text-anchor="end">-0.01</text>
<text class="tk" transform="translate(127.88,2193.7) scale(0.96,1)" text-anchor="end">0</text>
<text class="tk" transform="translate(127.88,2074.65) scale(0.96,1)" text-anchor="end">0.01</text>
<text class="tk" transform="translate(127.88,1955.6) scale(0.96,1)" text-anchor="end">0.02</text>
<text class="tk" transform="translate(127.88,1836.55) scale(0.96,1)" text-anchor="end">0.03</text>
<text class="tk" transform="translate(127.88,1717.5) scale(0.96,1)" text-anchor="end">0.04</text>
<text class="lb" x="513" y="2530.5" text-anchor="middle">x</text>
<text class="lb" style="font-size:46px;letter-spacing:0.34px" transform="translate(31,1998.3) rotate(-90)" text-anchor="middle">The stress (σ<tspan dy="22" style="font-size:37px">xy</tspan><tspan dy="-22">)</tspan></text>
<rect x="385.73" y="1734.2" width="474.39" height="108" fill="#6ccbdc" stroke="#464646" stroke-width="2.4"/>
<path d="M398.96 1764.3 H537.71" stroke="#ed1c24" stroke-width="4.9" fill="none"/>
<path d="M398.96 1812.3 H537.71" stroke="#2e4fa8" stroke-width="4.9" stroke-dasharray="27.7 16.6" fill="none"/>
<text class="lg" x="547.92" y="1778.8">Local Medium</text>
<text class="lg" x="547.92" y="1826.9">Nonlocal Medium</text>
</g>
<g id="p6">
<path d="M1293.42 1701.5 V2410 M1488.78 1701.5 V2410 M1684.13 1701.5 V2410 M1098.06 2175 H1879.49 M1098.06 1940.1 H1879.49 M1098.06 1705.2 H1879.49" stroke="#d6d6d6" stroke-width="2" fill="none"/>
<path d="M1146.9 2409.8 V1701.5 M1195.74 2409.8 V1701.5 M1244.58 2409.8 V1701.5 M1342.26 2409.8 V1701.5 M1391.1 2409.8 V1701.5 M1439.94 2409.8 V1701.5 M1537.62 2409.8 V1701.5 M1586.45 2409.8 V1701.5 M1635.29 2409.8 V1701.5 M1732.97 2409.8 V1701.5 M1781.81 2409.8 V1701.5 M1830.65 2409.8 V1701.5" stroke="#b0b0b0" stroke-width="2.2" stroke-dasharray="2.2 8.87" fill="none"/>
<path d="M1879.3 2362.92 H1099.48 M1879.3 2315.94 H1099.48 M1879.3 2268.96 H1099.48 M1879.3 2221.98 H1099.48 M1879.3 2128.02 H1099.48 M1879.3 2081.04 H1099.48 M1879.3 2034.06 H1099.48 M1879.3 1987.08 H1099.48 M1879.3 1893.12 H1099.48 M1879.3 1846.14 H1099.48 M1879.3 1799.16 H1099.48 M1879.3 1752.18 H1099.48" stroke="#b0b0b0" stroke-width="2.2" stroke-dasharray="2.2 8.85" fill="none"/>
<path d="M1098.06 1701.5 H1879.49 V2410 H1098.06 Z M1293.42 2410 v-9 M1293.42 1701.5 v9 M1488.78 2410 v-9 M1488.78 1701.5 v9 M1684.13 2410 v-9 M1684.13 1701.5 v9 M1098.06 2175 h9 M1879.49 2175 h-9 M1098.06 1940.1 h9 M1879.49 1940.1 h-9 M1098.06 1705.2 h9 M1879.49 1705.2 h-9" stroke="#464646" stroke-width="2.5" fill="none" stroke-linejoin="miter"/>
<g clip-path="url(#c5)" fill="none" stroke-linejoin="round">
<path d="M1098.06 1909.6 L1105.88 2140.6 L1113.69 2297 L1121.51 2354.8 L1129.32 2306.6 L1137.13 2208 L1144.95 2092.5 L1152.76 2017.7 L1160.58 2005.2 L1168.39 2038.4 L1176.21 2086.5 L1184.02 2124 L1191.83 2138.2 L1199.65 2116 L1207.46 2085.4 L1215.28 2056 L1223.09 2041 L1230.91 2046.2 L1238.72 2066.4 L1246.53 2090.1 L1254.35 2108.8 L1262.16 2121.2 L1269.98 2122.4 L1277.79 2118.6 L1285.6 2115.4 L1293.42 2115.1 L1301.23 2121.2 L1309.05 2130.35 L1316.86 2141.08 L1324.68 2148.77 L1332.49 2153.95 L1340.3 2156.28 L1348.12 2156.2 L1355.93 2155.72 L1363.75 2155.91 L1371.56 2157.71 L1379.38 2160.7 L1387.19 2163.85 L1395 2166.45 L1402.82 2167.91 L1410.63 2168.28 L1418.45 2167.93 L1426.26 2168.25 L1434.08 2167.97 L1441.89 2168.85 L1449.7 2170.7 L1457.52 2171.59 L1465.33 2172.76 L1473.15 2173.09 L1480.96 2173.26 L1488.78 2173.37 L1496.59 2173.48 L1504.4 2173.57 L1512.22 2173.68 L1520.03 2173.87 L1527.85 2174.1 L1535.66 2174.3 L1543.48 2174.5 L1551.29 2174.68 L1559.1 2174.82 L1566.92 2174.9 L1574.73 2174.97 L1582.55 2175.03 L1590.36 2175.08 L1598.18 2175.11 L1605.99 2175.14 L1613.8 2175.14 L1621.62 2175.14 L1629.43 2175.14 L1637.25 2175.14 L1645.06 2175.14 L1652.88 2175.14 L1660.69 2175.14 L1668.5 2175.14 L1676.32 2175.14 L1684.13 2175.14 L1691.95 2175.14 L1699.76 2175.14 L1707.58 2175.14 L1715.39 2175.14 L1723.2 2175.14 L1731.02 2175.14 L1738.83 2175.14 L1746.65 2175.14 L1754.46 2175.14 L1762.28 2175.14 L1770.09 2175.14 L1777.9 2175.14 L1785.72 2175.14 L1793.53 2175.14 L1801.35 2175.14 L1809.16 2175.14 L1816.98 2175.14 L1824.79 2175.14 L1832.6 2175.14 L1840.42 2175.14 L1848.23 2175.14 L1856.05 2175.14 L1863.86 2175.14 L1871.68 2175.14 L1879.49 2175.14" stroke="#ed1c24" stroke-width="4.9"/>
<path d="M1098.06 1701.58 L1105.88 1823.76 L1113.69 1920.61 L1121.51 1995.05 L1129.32 2050.01 L1137.13 2088.42 L1144.95 2113.18 L1152.76 2127.2 L1160.58 2133.33 L1168.39 2133.88 L1176.21 2130.75 L1184.02 2125.85 L1191.83 2120.93 L1199.65 2116.58 L1207.46 2112.9 L1215.28 2110.01 L1223.09 2108.01 L1230.91 2107 L1238.72 2107.08 L1246.53 2108.23 L1254.35 2110.32 L1262.16 2113.22 L1269.98 2116.81 L1277.79 2120.95 L1285.6 2125.54 L1293.42 2130.49 L1301.23 2135.72 L1309.05 2141.16 L1316.86 2146.72 L1324.68 2152.32 L1332.49 2157.88 L1340.3 2163.33 L1348.12 2168.58 L1355.93 2173.56 L1363.75 2178.18 L1371.56 2182.37 L1379.38 2186.08 L1387.19 2189.32 L1395 2192.1 L1402.82 2194.45 L1410.63 2196.38 L1418.45 2197.91 L1426.26 2199.04 L1434.08 2199.8 L1441.89 2200.2 L1449.7 2200.26 L1457.52 2200 L1465.33 2199.42 L1473.15 2198.55 L1480.96 2197.4 L1488.78 2195.99 L1496.59 2194.33 L1504.4 2192.44 L1512.22 2190.37 L1520.03 2188.16 L1527.85 2185.86 L1535.66 2183.52 L1543.48 2181.19 L1551.29 2178.93 L1559.1 2176.78 L1566.92 2174.78 L1574.73 2173 L1582.55 2171.43 L1590.36 2170.08 L1598.18 2168.93 L1605.99 2167.97 L1613.8 2167.18 L1621.62 2166.56 L1629.43 2166.1 L1637.25 2165.78 L1645.06 2165.6 L1652.88 2165.55 L1660.69 2165.61 L1668.5 2165.78 L1676.32 2166.05 L1684.13 2166.41 L1691.95 2166.85 L1699.76 2167.36 L1707.58 2167.94 L1715.39 2168.57 L1723.2 2169.25 L1731.02 2169.96 L1738.83 2170.7 L1746.65 2171.46 L1754.46 2172.23 L1762.28 2173 L1770.09 2173.76 L1777.9 2174.5 L1785.72 2175.21 L1793.53 2175.89 L1801.35 2176.52 L1809.16 2177.1 L1816.98 2177.61 L1824.79 2178.05 L1832.6 2178.41 L1840.42 2178.68 L1848.23 2178.85 L1856.05 2178.92 L1863.86 2178.86 L1871.68 2178.68 L1879.49 2178.36" stroke="#2e4fa8" stroke-width="4.9" stroke-dasharray="27.7 16.6"/>
</g>
<text class="tk" transform="translate(1096.64,2466) scale(0.96,1)" text-anchor="middle">0</text>
<text class="tk" transform="translate(1292,2466) scale(0.96,1)" text-anchor="middle">2</text>
<text class="tk" transform="translate(1487.36,2466) scale(0.96,1)" text-anchor="middle">4</text>
<text class="tk" transform="translate(1682.72,2466) scale(0.96,1)" text-anchor="middle">6</text>
<text class="tk" transform="translate(1878.07,2466) scale(0.96,1)" text-anchor="middle">8</text>
<text class="tk" transform="translate(1083.41,2426.2) scale(0.96,1)" text-anchor="end">-0.05</text>
<text class="tk" transform="translate(1083.41,2191.3) scale(0.96,1)" text-anchor="end">0</text>
<text class="tk" transform="translate(1083.41,1956.4) scale(0.96,1)" text-anchor="end">0.05</text>
<text class="tk" transform="translate(1083.41,1721.5) scale(0.96,1)" text-anchor="end">0.1</text>
<text class="lb" x="1486.51" y="2525" text-anchor="middle">x</text>
<text class="lb" style="font-size:46px;letter-spacing:0px" transform="translate(967.49,2052.8) rotate(-90)" text-anchor="middle">The conductive temperature(ϕ)</text>
<rect x="1377.13" y="1734.5" width="474.39" height="108" fill="#6ccbdc" stroke="#464646" stroke-width="2.4"/>
<path d="M1390.36 1764.6 H1529.11" stroke="#ed1c24" stroke-width="4.9" fill="none"/>
<path d="M1390.36 1812.6 H1529.11" stroke="#2e4fa8" stroke-width="4.9" stroke-dasharray="27.7 16.6" fill="none"/>
<text class="lg" x="1539.32" y="1779.1">Local Medium</text>
<text class="lg" x="1539.32" y="1827.2">Nonlocal Medium</text>
</g>
</g>
</svg>
</body>
</html>
